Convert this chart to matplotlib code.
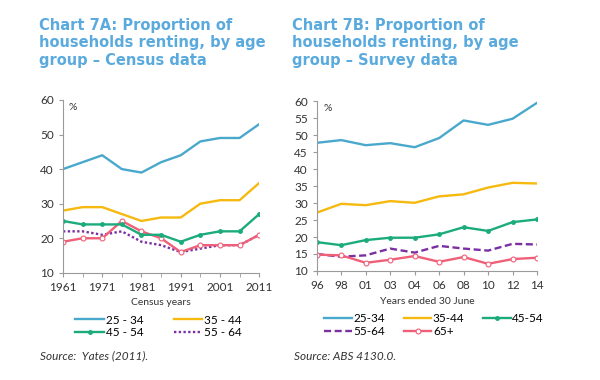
import matplotlib
matplotlib.use("Agg")
import matplotlib.pyplot as plt

# Chart 7A - census data (every 5 years)
census_years = [1961, 1966, 1971, 1976, 1981, 1986, 1991, 1996, 2001, 2006, 2011]
a_25_34 = [40, 42, 44, 40, 39, 42, 44, 48, 49, 49, 53]
a_35_44 = [28, 29, 29, 27, 25, 26, 26, 30, 31, 31, 36]
a_45_54 = [25, 24, 24, 24, 21, 21, 19, 21, 22, 22, 27]
a_55_64 = [22, 22, 21, 22, 19, 18, 16, 17, 18, 18, 21]
a_65 = [19, 20, 20, 25, 22, 20, 16, 18, 18, 18, 21]

# Chart 7B - survey data
survey_labels = ["96", "98", "01", "03", "04", "06", "08", "10", "12", "14"]
b_25_34 = [47.8, 48.6, 47.1, 47.7, 46.5, 49.2, 54.4, 53.1, 54.9, 59.6]
b_35_44 = [27.2, 29.8, 29.4, 30.6, 30.1, 32.0, 32.6, 34.6, 36.0, 35.8]
b_45_54 = [18.5, 17.6, 19.1, 19.8, 19.8, 20.8, 22.9, 21.8, 24.4, 25.2]
b_55_64 = [15.0, 14.2, 14.6, 16.6, 15.4, 17.4, 16.6, 16.0, 18.0, 17.8]
b_65 = [14.8, 14.6, 12.4, 13.3, 14.4, 12.7, 14.1, 12.1, 13.5, 13.9]

blue = "#4aa8cc"
yellow = "#f6b90f"
green = "#1bab7c"
purple = "#7b2fa3"
pink = "#ef6078"
title_col = "#5aaade"
txt = "#333333"
axcol = "#9a9a9a"

plt.rcParams["font.family"] = ["Lato", "DejaVu Sans"]
plt.rcParams["legend.numpoints"] = 1

fig = plt.figure(figsize=(6, 3.8), dpi=100)


def style_axes(ax):
    for s in ["top", "right"]:
        ax.spines[s].set_visible(False)
    for s in ["left", "bottom"]:
        ax.spines[s].set_color(axcol)
        ax.spines[s].set_linewidth(0.8)
    ax.tick_params(colors=axcol, labelcolor=txt, labelsize=8.5, length=3, width=0.8)
    ax.text(0.03, 0.985, "%", transform=ax.transAxes, fontsize=7.5, color=txt, va="top")


# ---- left chart
ax1 = fig.add_axes([0.105, 0.282, 0.327, 0.455])
l1, = ax1.plot(census_years, a_25_34, color=blue, lw=1.7)
l2, = ax1.plot(census_years, a_35_44, color=yellow, lw=1.7)
l4, = ax1.plot(census_years, a_55_64, color=purple, lw=1.7, ls=(0, (1, 1)))
ax1.plot(census_years, a_65, color=pink, lw=1.7, marker="o", ms=3.5, mfc="white", mec=pink, mew=0.8)
l3, = ax1.plot(census_years, a_45_54, color=green, lw=1.7, marker="o", ms=2.5)
ax1.set_xlim(1961, 2011)
ax1.set_ylim(10, 60)
ax1.set_xticks(range(1961, 2012, 10))
ax1.set_xticks(census_years, minor=True)
ax1.tick_params(axis="x", which="minor", length=3, color=axcol)
ax1.set_yticks(range(10, 61, 10))
style_axes(ax1)
ax1.set_xlabel("Census years", fontsize=7.5, color=txt, labelpad=4)
ax1.legend([l1, l3, l2, l4], ["25 - 34", "45 - 54", "35 - 44", "55 - 64"],
           ncol=2, frameon=False, fontsize=8.5, handlelength=2.4, handletextpad=0.15,
           columnspacing=2.6, labelspacing=0.1,
           loc="upper left", bbox_to_anchor=(0.108, 0.2), bbox_transform=fig.transFigure)

# ---- right chart
xb = list(range(len(survey_labels)))
ax2 = fig.add_axes([0.528, 0.287, 0.367, 0.446])
m1, = ax2.plot(xb, b_25_34, color=blue, lw=1.7)
m2, = ax2.plot(xb, b_35_44, color=yellow, lw=1.7)
m3, = ax2.plot(xb, b_45_54, color=green, lw=1.7, marker="o", ms=2.5)
m4, = ax2.plot(xb, b_55_64, color=purple, lw=1.7, ls=(0, (3, 1.5)))
m5, = ax2.plot(xb, b_65, color=pink, lw=1.7, marker="o", ms=3.5, mfc="white", mec=pink, mew=0.8)
ax2.set_xlim(0, len(xb) - 1)
ax2.set_ylim(10, 60)
ax2.set_xticks(xb)
ax2.set_xticklabels(survey_labels)
ax2.set_yticks(range(10, 61, 5))
style_axes(ax2)
ax2.set_xlabel("Years ended 30 June", fontsize=7.5, color=txt, labelpad=4)
ax2.legend([m1, m4, m2, m5, m3], ["25-34", "55-64", "35-44", "65+", "45-54"],
           ncol=3, frameon=False, fontsize=8.5, handlelength=2.3, handletextpad=0.15,
           columnspacing=1.6, labelspacing=0.2,
           loc="upper left", bbox_to_anchor=(0.523, 0.205), bbox_transform=fig.transFigure)

# ---- titles and sources
title_font = dict(fontsize=10.5, fontweight="bold", color=title_col, va="top",
                  linespacing=1.18, family="DejaVu Sans")
fig.text(0.065, 0.952, "Chart 7A: Proportion of\nhouseholds renting, by age\ngroup \u2013 Census data",
         **title_font)
fig.text(0.487, 0.952, "Chart 7B: Proportion of\nhouseholds renting, by age\ngroup \u2013 Survey data",
         **title_font)
fig.text(0.066, 0.063, "Source:  Yates (2011).", fontsize=8.5, style="italic", color=txt, va="center")
fig.text(0.49, 0.063, "Source: ABS 4130.0.", fontsize=8.5, style="italic", color=txt, va="center")

fig.savefig("out.png", dpi=100)
